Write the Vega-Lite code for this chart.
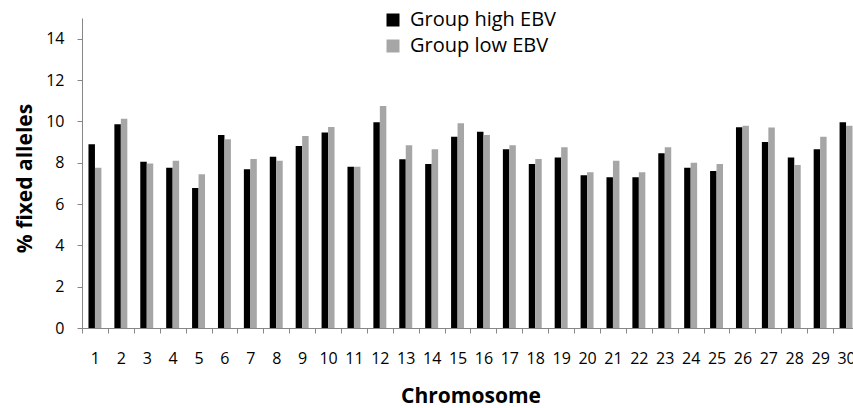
{
  "$schema": "https://vega.github.io/schema/vega-lite/v6.json",
  "width": 777,
  "height": 310,
  "autosize": {"type": "none"},
  "padding": {"left": 82, "top": 18, "right": 0, "bottom": 80},
  "background": "white",
  "config": {
    "view": {"stroke": null},
    "font": "Open Sans",
    "axis": {
      "domainColor": "#868686",
      "tickColor": "#868686",
      "tickSize": 5,
      "labelColor": "#000000",
      "labelFont": "Open Sans",
      "labelFontSize": 16,
      "titleFont": "Open Sans",
      "titleFontSize": 21,
      "titleFontWeight": "bold",
      "titleColor": "#000000",
      "grid": false
    }
  },
  "data": {
    "values": [
      {"chr": 1, "group": "Group high EBV", "value": 8.89},
      {"chr": 2, "group": "Group high EBV", "value": 9.86},
      {"chr": 3, "group": "Group high EBV", "value": 8.04},
      {"chr": 4, "group": "Group high EBV", "value": 7.75},
      {"chr": 5, "group": "Group high EBV", "value": 6.78},
      {"chr": 6, "group": "Group high EBV", "value": 9.34},
      {"chr": 7, "group": "Group high EBV", "value": 7.68},
      {"chr": 8, "group": "Group high EBV", "value": 8.29},
      {"chr": 9, "group": "Group high EBV", "value": 8.81},
      {"chr": 10, "group": "Group high EBV", "value": 9.46},
      {"chr": 11, "group": "Group high EBV", "value": 7.80},
      {"chr": 12, "group": "Group high EBV", "value": 9.96},
      {"chr": 13, "group": "Group high EBV", "value": 8.17},
      {"chr": 14, "group": "Group high EBV", "value": 7.94},
      {"chr": 15, "group": "Group high EBV", "value": 9.26},
      {"chr": 16, "group": "Group high EBV", "value": 9.49},
      {"chr": 17, "group": "Group high EBV", "value": 8.65},
      {"chr": 18, "group": "Group high EBV", "value": 7.94},
      {"chr": 19, "group": "Group high EBV", "value": 8.25},
      {"chr": 20, "group": "Group high EBV", "value": 7.39},
      {"chr": 21, "group": "Group high EBV", "value": 7.30},
      {"chr": 22, "group": "Group high EBV", "value": 7.30},
      {"chr": 23, "group": "Group high EBV", "value": 8.46},
      {"chr": 24, "group": "Group high EBV", "value": 7.75},
      {"chr": 25, "group": "Group high EBV", "value": 7.60},
      {"chr": 26, "group": "Group high EBV", "value": 9.71},
      {"chr": 27, "group": "Group high EBV", "value": 9.00},
      {"chr": 28, "group": "Group high EBV", "value": 8.25},
      {"chr": 29, "group": "Group high EBV", "value": 8.65},
      {"chr": 30, "group": "Group high EBV", "value": 9.96},
      {"chr": 1, "group": "Group low EBV", "value": 7.75},
      {"chr": 2, "group": "Group low EBV", "value": 10.12},
      {"chr": 3, "group": "Group low EBV", "value": 7.96},
      {"chr": 4, "group": "Group low EBV", "value": 8.09},
      {"chr": 5, "group": "Group low EBV", "value": 7.44},
      {"chr": 6, "group": "Group low EBV", "value": 9.13},
      {"chr": 7, "group": "Group low EBV", "value": 8.18},
      {"chr": 8, "group": "Group low EBV", "value": 8.09},
      {"chr": 9, "group": "Group low EBV", "value": 9.29},
      {"chr": 10, "group": "Group low EBV", "value": 9.73},
      {"chr": 11, "group": "Group low EBV", "value": 7.80},
      {"chr": 12, "group": "Group low EBV", "value": 10.74},
      {"chr": 13, "group": "Group low EBV", "value": 8.84},
      {"chr": 14, "group": "Group low EBV", "value": 8.65},
      {"chr": 15, "group": "Group low EBV", "value": 9.91},
      {"chr": 16, "group": "Group low EBV", "value": 9.34},
      {"chr": 17, "group": "Group low EBV", "value": 8.84},
      {"chr": 18, "group": "Group low EBV", "value": 8.18},
      {"chr": 19, "group": "Group low EBV", "value": 8.75},
      {"chr": 20, "group": "Group low EBV", "value": 7.54},
      {"chr": 21, "group": "Group low EBV", "value": 8.09},
      {"chr": 22, "group": "Group low EBV", "value": 7.54},
      {"chr": 23, "group": "Group low EBV", "value": 8.75},
      {"chr": 24, "group": "Group low EBV", "value": 7.99},
      {"chr": 25, "group": "Group low EBV", "value": 7.94},
      {"chr": 26, "group": "Group low EBV", "value": 9.79},
      {"chr": 27, "group": "Group low EBV", "value": 9.70},
      {"chr": 28, "group": "Group low EBV", "value": 7.89},
      {"chr": 29, "group": "Group low EBV", "value": 9.26},
      {"chr": 30, "group": "Group low EBV", "value": 9.79}
    ]
  },
  "mark": {"type": "bar"},
  "encoding": {
    "x": {
      "field": "chr",
      "type": "ordinal",
      "title": "Chromosome",
      "scale": {"paddingInner": 0, "paddingOuter": 0},
      "axis": {
        "labelAngle": 0,
        "tickBand": "extent",
        "labelPadding": 17,
        "titlePadding": 19
      }
    },
    "xOffset": {
      "field": "group",
      "type": "nominal",
      "scale": {"paddingInner": 0, "paddingOuter": 1}
    },
    "y": {
      "field": "value",
      "type": "quantitative",
      "title": "% fixed alleles",
      "scale": {"domain": [0, 15], "nice": false},
      "axis": {
        "values": [0, 2, 4, 6, 8, 10, 12, 14],
        "labelPadding": 13,
        "titlePadding": 10,
        "titleY": 160
      }
    },
    "color": {
      "field": "group",
      "type": "nominal",
      "scale": {"domain": ["Group high EBV", "Group low EBV"], "range": ["#000000", "#A6A6A6"]},
      "legend": {
        "title": null,
        "orient": "none",
        "legendX": 301,
        "legendY": -8,
        "symbolType": "square",
        "symbolSize": 169,
        "symbolStrokeWidth": 0,
        "symbolOpacity": 1,
        "labelFont": "Open Sans",
        "labelFontSize": 20,
        "labelColor": "#000000",
        "labelOffset": 7,
        "rowPadding": 6,
        "padding": 0
      }
    }
  }
}
